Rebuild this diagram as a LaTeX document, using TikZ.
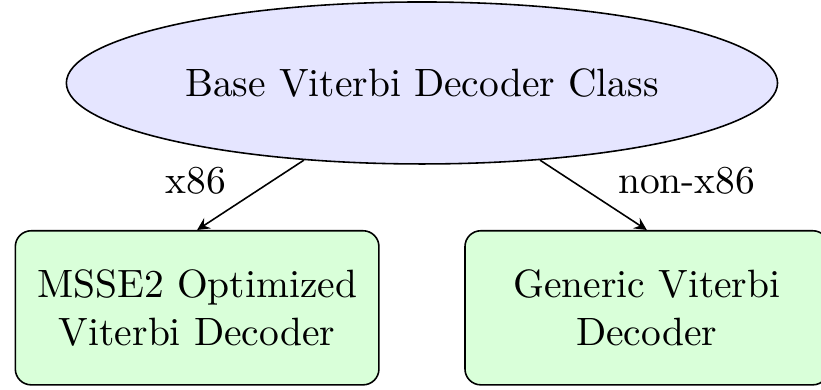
\documentclass[tikz,border=0pt]{standalone}
\usepackage{amsmath}
\usepackage{tikz}
\usetikzlibrary{positioning,shapes.geometric}
\tikzset{%
  edgearrow/.style = {-stealth,solid},
  e/.style = {ellipse,draw,fill=blue!10,minimum width=180pt,
        minimum height=41pt},
  r/.style = {rectangle,draw,rounded corners,fill=green!15,
        text width=3cm,align=center,minimum height=39pt}
}

\begin{document}
\begin{tikzpicture}[
on grid,
every text node part/.style={align=center}
]
\useasboundingbox (-106.8pt,21pt) rectangle (101pt,-77.7pt);
\node[e] (root) {Base Viterbi Decoder Class};
\node[r, below left=2cm and 2cm of root] (msse) {MSSE2 Optimized\\ Viterbi Decoder};
\node[r, below right=2cm and 2cm of root] (generic) {Generic Viterbi\\ Decoder};
\draw[edgearrow] (root) -- node[pos=0.6, above left, yshift=-1.5pt] {x86} (msse.north);
\draw[edgearrow] (root) -- node[pos=0.6, above right, yshift=-1.5pt] {non-x86} (generic.north);
\end{tikzpicture}
\end{document}
